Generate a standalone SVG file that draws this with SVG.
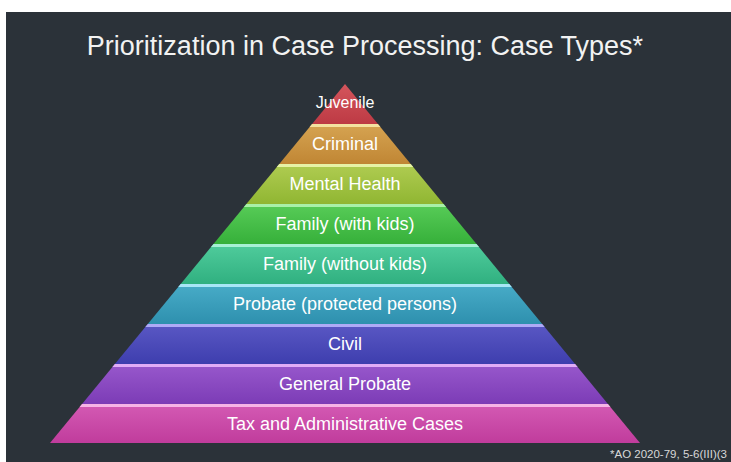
<svg xmlns="http://www.w3.org/2000/svg" width="731" height="462" viewBox="0 0 731 462">
<style>
.lbl{font-family:"Liberation Sans",Arial,sans-serif;font-size:18px;fill:#ffffff;text-anchor:middle}
.title{font-family:"Liberation Sans",Arial,sans-serif;font-size:27px;fill:#f2f2f2;text-anchor:middle}
.note{font-family:"Liberation Sans",Arial,sans-serif;font-size:11.5px;fill:#d8d8d8}
</style>
<defs>
<linearGradient id="g1" x1="0" y1="0" x2="0" y2="1"><stop offset="0" stop-color="#d4555c"/><stop offset="1" stop-color="#bd3a44"/></linearGradient>
<linearGradient id="g2" x1="0" y1="0" x2="0" y2="1"><stop offset="0" stop-color="#d6a452"/><stop offset="1" stop-color="#c08634"/></linearGradient>
<linearGradient id="g3" x1="0" y1="0" x2="0" y2="1"><stop offset="0" stop-color="#b0cc52"/><stop offset="1" stop-color="#90b632"/></linearGradient>
<linearGradient id="g4" x1="0" y1="0" x2="0" y2="1"><stop offset="0" stop-color="#58cc58"/><stop offset="1" stop-color="#36b03a"/></linearGradient>
<linearGradient id="g5" x1="0" y1="0" x2="0" y2="1"><stop offset="0" stop-color="#50cc9c"/><stop offset="1" stop-color="#30b080"/></linearGradient>
<linearGradient id="g6" x1="0" y1="0" x2="0" y2="1"><stop offset="0" stop-color="#48acc8"/><stop offset="1" stop-color="#2e90ae"/></linearGradient>
<linearGradient id="g7" x1="0" y1="0" x2="0" y2="1"><stop offset="0" stop-color="#5a58c4"/><stop offset="1" stop-color="#3e3eae"/></linearGradient>
<linearGradient id="g8" x1="0" y1="0" x2="0" y2="1"><stop offset="0" stop-color="#9858cc"/><stop offset="1" stop-color="#7c3cb6"/></linearGradient>
<linearGradient id="g9" x1="0" y1="0" x2="0" y2="1"><stop offset="0" stop-color="#d45ab4"/><stop offset="1" stop-color="#c03c9c"/></linearGradient>
</defs>
<rect x="0" y="0" width="731" height="462" fill="#ffffff"/>
<rect x="6" y="12" width="725" height="450" fill="#2b3239"/>
<text class="title" x="365" y="55">Prioritization in Case Processing: Case Types*</text>
<g id="connectors"></g>
<g id="juvenile">
<polygon points="345,84 377.9,124 312.1,124" fill="url(#g1)"/>
<text class="lbl" x="345" y="108" style="font-size:16px">Juvenile</text>
</g>
<g id="criminal">
<polygon points="312.1,124 377.9,124 410.7,164 279.3,164" fill="url(#g2)"/>
<polygon points="312.1,124 377.9,124 380.4,127 309.6,127" fill="#f4e2a0"/>
<text class="lbl" x="345" y="150">Criminal</text>
</g>
<g id="mental-health">
<polygon points="279.3,164 410.7,164 443.6,204 246.4,204" fill="url(#g3)"/>
<polygon points="279.3,164 410.7,164 413.2,167 276.8,167" fill="#e6f2a6"/>
<text class="lbl" x="345" y="190">Mental Health</text>
</g>
<g id="family-with-kids">
<polygon points="246.4,204 443.6,204 476.5,244 213.5,244" fill="url(#g4)"/>
<polygon points="246.4,204 443.6,204 446.1,207 243.9,207" fill="#a8f0a8"/>
<text class="lbl" x="345" y="230">Family (with kids)</text>
</g>
<g id="family-without-kids">
<polygon points="213.5,244 476.5,244 509.3,284 180.7,284" fill="url(#g5)"/>
<polygon points="213.5,244 476.5,244 479,247 211,247" fill="#a6f0d4"/>
<text class="lbl" x="345" y="270">Family (without kids)</text>
</g>
<g id="probate-protected">
<polygon points="180.7,284 509.3,284 542.2,324 147.8,324" fill="url(#g6)"/>
<polygon points="180.7,284 509.3,284 511.8,287 178.2,287" fill="#a8e6f6"/>
<text class="lbl" x="345" y="310">Probate (protected persons)</text>
</g>
<g id="civil">
<polygon points="147.8,324 542.2,324 575.1,364 114.9,364" fill="url(#g7)"/>
<polygon points="147.8,324 542.2,324 544.7,327 145.3,327" fill="#aeaaf6"/>
<text class="lbl" x="345" y="350">Civil</text>
</g>
<g id="general-probate">
<polygon points="114.9,364 575.1,364 607.9,404 82.1,404" fill="url(#g8)"/>
<polygon points="114.9,364 575.1,364 577.6,367 112.4,367" fill="#e0acf6"/>
<text class="lbl" x="345" y="390">General Probate</text>
</g>
<g id="tax-admin">
<polygon points="82.1,404 607.9,404 640,443 50,443" fill="url(#g9)"/>
<polygon points="82.1,404 607.9,404 610.4,407 79.6,407" fill="#f6b4e6"/>
<text class="lbl" x="345" y="430">Tax and Administrative Cases</text>
</g>
<text class="note" x="610" y="458">*AO 2020-79, 5-6(III)(3</text>
</svg>
